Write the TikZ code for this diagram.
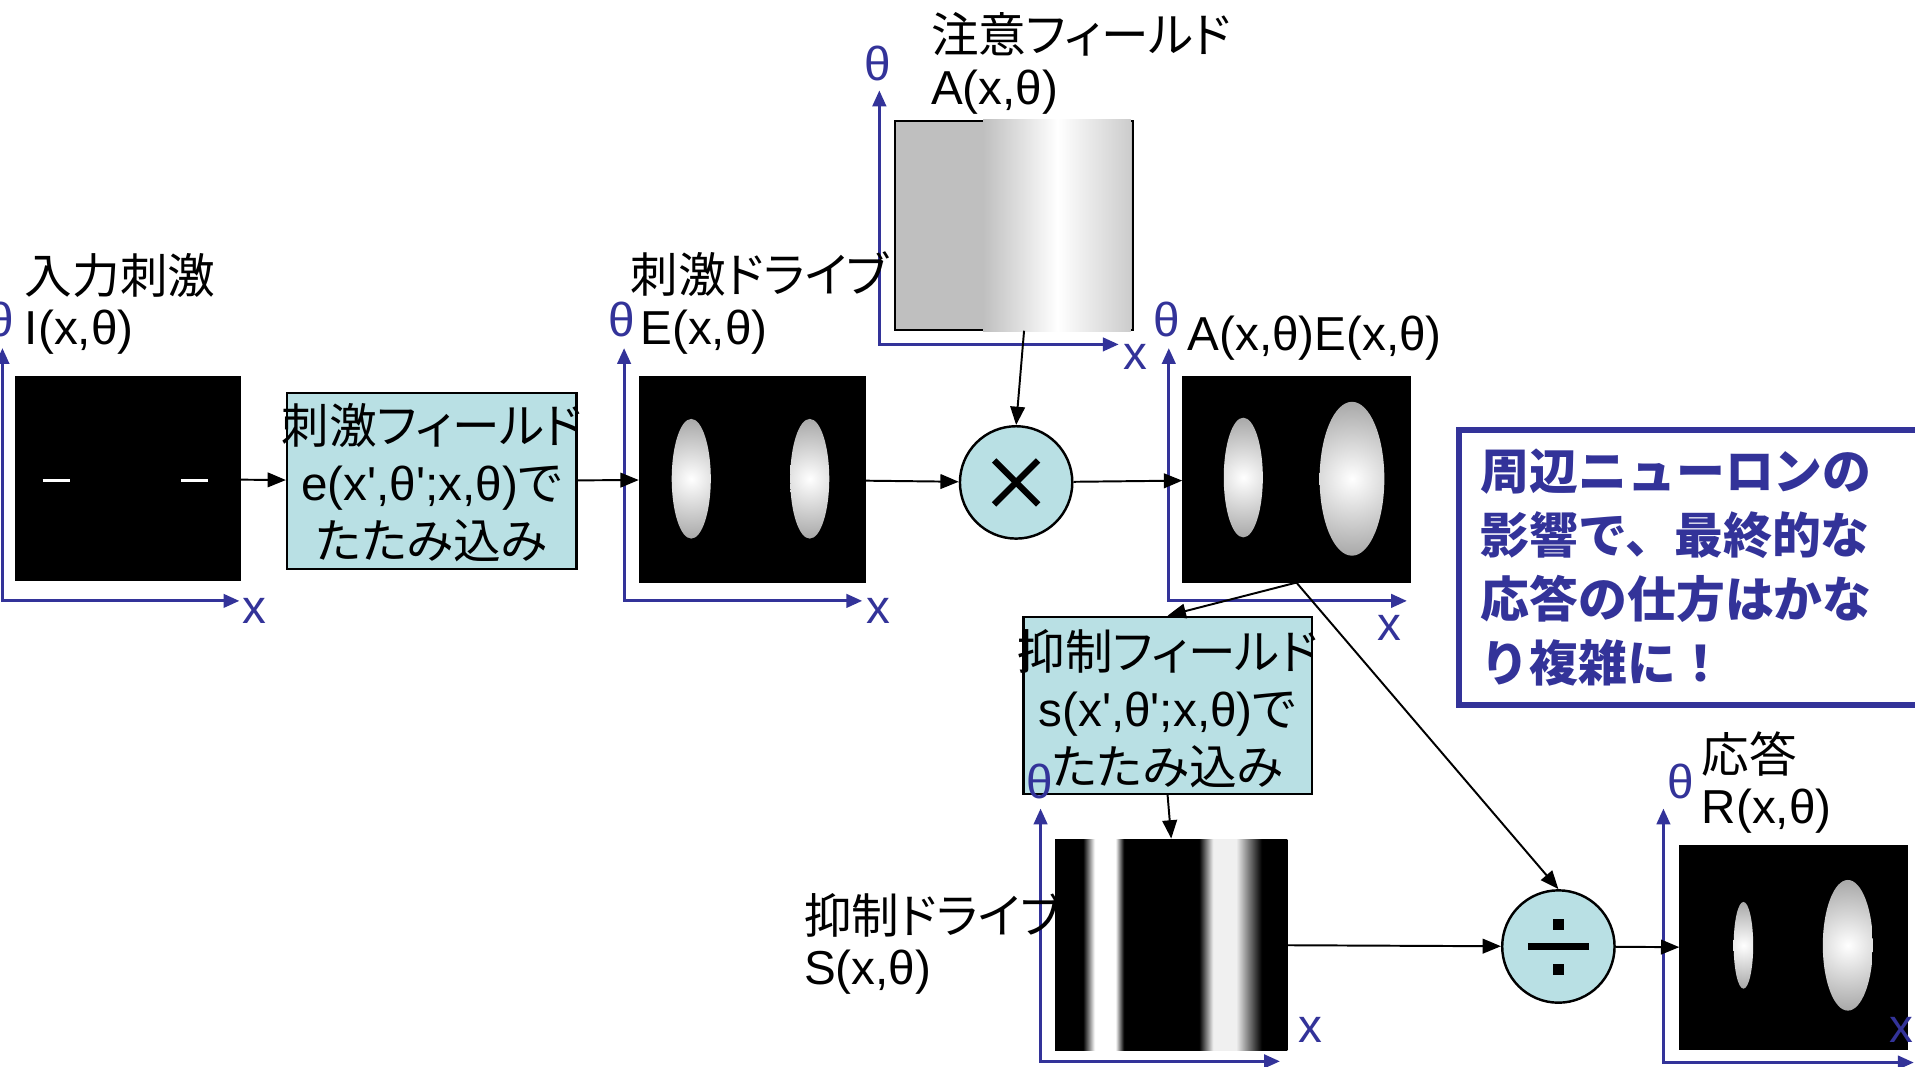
\documentclass[tikz,border=0pt]{standalone}
\usepackage{fontspec}
\usetikzlibrary{arrows.meta}
\newfontfamily\lat{Liberation Sans}
\newfontfamily\jp{Noto Sans CJK JP}[RawFeature=+palt]
\newfontfamily\jpm{Noto Sans CJK JP}
\definecolor{axblue}{RGB}{51,51,153}
\definecolor{boxcyan}{RGB}{185,224,228}
\pgfdeclarehorizontalshading{sstripes}{100bp}{color(0bp)=(black); color(31bp)=(black); color(33.5bp)=(white); color(38bp)=(white); color(39.8bp)=(black); color(56bp)=(black); color(59bp)=(black!6); color(64bp)=(black!6); color(69.5bp)=(black); color(100bp)=(black)}
% shaded ellipse: centre x, centre y, x radius, y radius
\newcommand\shadedblob[4]{%
  \begin{scope}
    \clip (#1,#2) ellipse [x radius=#3, y radius=#4];
    \shade[inner color=white, outer color=black!34] (#1,#2) circle [radius=#4];
  \end{scope}}
\begin{document}
\begin{tikzpicture}[x=0.5pt,y=-0.5pt,
  panel/.style={fill=black, inner sep=0pt, outer sep=0pt},
  fbox/.style={draw=black, line width=0.9pt, fill=boxcyan, inner sep=0pt},
  op/.style={circle, draw=black, line width=1pt, fill=boxcyan, minimum size=46pt, inner sep=0pt},
  conn/.style={draw=black, line width=0.8pt, -{Triangle[length=7.5pt,width=6pt]}},
  axisln/.style={draw=axblue, line width=1.2pt, {Triangle[length=6.5pt,width=5.5pt]}-{Triangle[length=6.5pt,width=5.5pt]}},
  axlbl/.style={text=axblue, font=\lat\fontsize{19.5}{21}\selectfont, inner sep=0pt},
  lbl/.style={font=\lat\fontsize{19.5}{21}\selectfont, inner sep=0pt, anchor=west, align=left},
  ftext/.style={font=\lat\fontsize{19.5}{23.5}\selectfont, inner sep=0pt, align=center}
]
\useasboundingbox (0,0) rectangle (1568,873);
\clip (0,0) rectangle (1568,873);

% ---------- panels ----------
\node (p1) [panel, minimum width=92.5pt, minimum height=84pt] at (104.5,392) {};
\draw[white, line width=1.2pt] (35,393.5) -- (57,393.5);
\draw[white, line width=1.2pt] (148,393.5) -- (170,393.5);

\node (p2) [panel, minimum width=93pt, minimum height=84.5pt] at (616,392.5) {};
\shadedblob{566}{392}{16}{49}
\shadedblob{663}{392}{16}{49}

\node (pA) [draw=black, line width=0.8pt, fill=black!25, inner sep=0pt, minimum width=97.5pt, minimum height=85.5pt] at (830.5,184.5) {};
\shade[left color=black!25, right color=white] (805,97.5) rectangle (866,271.5);
\shade[left color=white, right color=black!20] (866,97.5) rectangle (926,271.5);

\node (p3) [panel, minimum width=93.5pt, minimum height=84.5pt] at (1061.5,392.5) {};
\shadedblob{1018}{391}{16}{49}
\shadedblob{1107}{392}{26.5}{63}

\node (pS) [inner sep=0pt, shade, shading=sstripes, minimum width=95pt, minimum height=86.5pt] at (959,773.5) {};

\node (pR) [panel, minimum width=93.5pt, minimum height=84pt] at (1468.5,776) {};
\shadedblob{1427.5}{774}{8}{35.5}
\shadedblob{1513}{774}{20.5}{53.5}

% ---------- field boxes ----------
\node (b1) [fbox, minimum width=118.5pt, minimum height=72pt] at (353.5,394) {};
\node (b1t) [ftext] at (353.5,395) {{\jp 刺激フィールド}\\e(x',θ';x,θ){\jp で}\\{\jp たたみ込み}};

\node (b2) [fbox, minimum width=118pt, minimum height=72.5pt] at (956,577.5) {};
\node (b2t) [ftext] at (956,580) {{\jp 抑制フィールド}\\s(x',θ';x,θ){\jp で}\\{\jp たたみ込み}};

% ---------- operators ----------
\node (mul) [op] at (832,395) {};
\draw[line width=2.5pt] ([shift={(-18,-18)}]mul.center) -- ([shift={(18,18)}]mul.center);
\draw[line width=2.5pt] ([shift={(-18,18)}]mul.center) -- ([shift={(18,-18)}]mul.center);

\node (div) [op] at (1276,775) {};
\draw[line width=2.6pt] ([shift={(-25,0)}]div.center) -- ([shift={(25,0)}]div.center);
\fill ([shift={(-4.5,-22.5)}]div.center) rectangle ([shift={(4.5,-13.5)}]div.center);
\fill ([shift={(-4.5,14)}]div.center) rectangle ([shift={(4.5,23)}]div.center);

% ---------- axes ----------
\draw[axisln] (2,285) -- (2,492) -- (196,492);
\draw[axisln] (511,285) -- (511,492) -- (706,492);
\draw[axisln] (720,74) -- (720,282) -- (916,282);
\draw[axisln] (957,285) -- (957,492) -- (1152,492);
\draw[axisln] (852,662) -- (852,869) -- (1048,869);
\draw[axisln] (1362,662) -- (1362,870) -- (1567,870);

\node (tI) [axlbl] at (1,262) {θ};
\node (xI) [axlbl] at (208,500) {x};
\node (tE) [axlbl] at (509,262) {θ};
\node (xE) [axlbl] at (719,500) {x};
\node (tA) [axlbl] at (719,52) {θ};
\node (xA) [axlbl] at (930,292) {x};
\node (tAE) [axlbl] at (955,262) {θ};
\node (xAE) [axlbl] at (1138,514) {x};
\node (tS) [axlbl] at (851,640) {θ};
\node (xS) [axlbl] at (1073,843) {x};
\node (tR) [axlbl] at (1376,640) {θ};
\node (xR) [axlbl] at (1557,843) {x};

% ---------- labels ----------
\node (lI) [lbl] at (20,249) {{\jp 入力刺激}\\I(x,θ)};
\node (lE) [lbl] at (516,248) {{\jp 刺激ドライブ}\\\hspace*{4pt}E(x,θ)};
\node (lA) [lbl] at (762,52) {{\jp 注意フィールド}\\A(x,θ)};
\node (lAE) [lbl] at (972,277) {A(x,θ)E(x,θ)};
\node (lS) [lbl] at (658,772.5) {{\jp 抑制ドライブ}\\S(x,θ)};
\node (lR) [lbl] at (1393,641) {{\jp 応答}\\R(x,θ)};

% ---------- note ----------
\node (note) [draw=axblue, line width=2.5pt, anchor=north west, minimum height=112.75pt, text width=220pt, inner xsep=9pt, inner ysep=0pt, align=left, text=axblue, font=\jpm\bfseries\fontsize{20}{26.3}\selectfont] at (1192,349.5) {周辺ニューロンの\\影響で、最終的な\\応答の仕方はかな\\り複雑に！};

% ---------- connectors ----------
\draw[conn] (p1) -- (b1);
\draw[conn] (b1) -- (p2);
\draw[conn] (p2) -- (mul);
\draw[conn] ([xshift=4pt]pA.south) -- (mul.north);
\draw[conn] (mul) -- (p3);
\draw[conn] (p3.south) -- (b2.north);
\draw[conn] (p3.south) -- (div.north);
\draw[conn] (b2.south) -- (pS.north);
\draw[conn] (pS) -- (div);
\draw[conn] (div) -- (pR);
\end{tikzpicture}
\end{document}
